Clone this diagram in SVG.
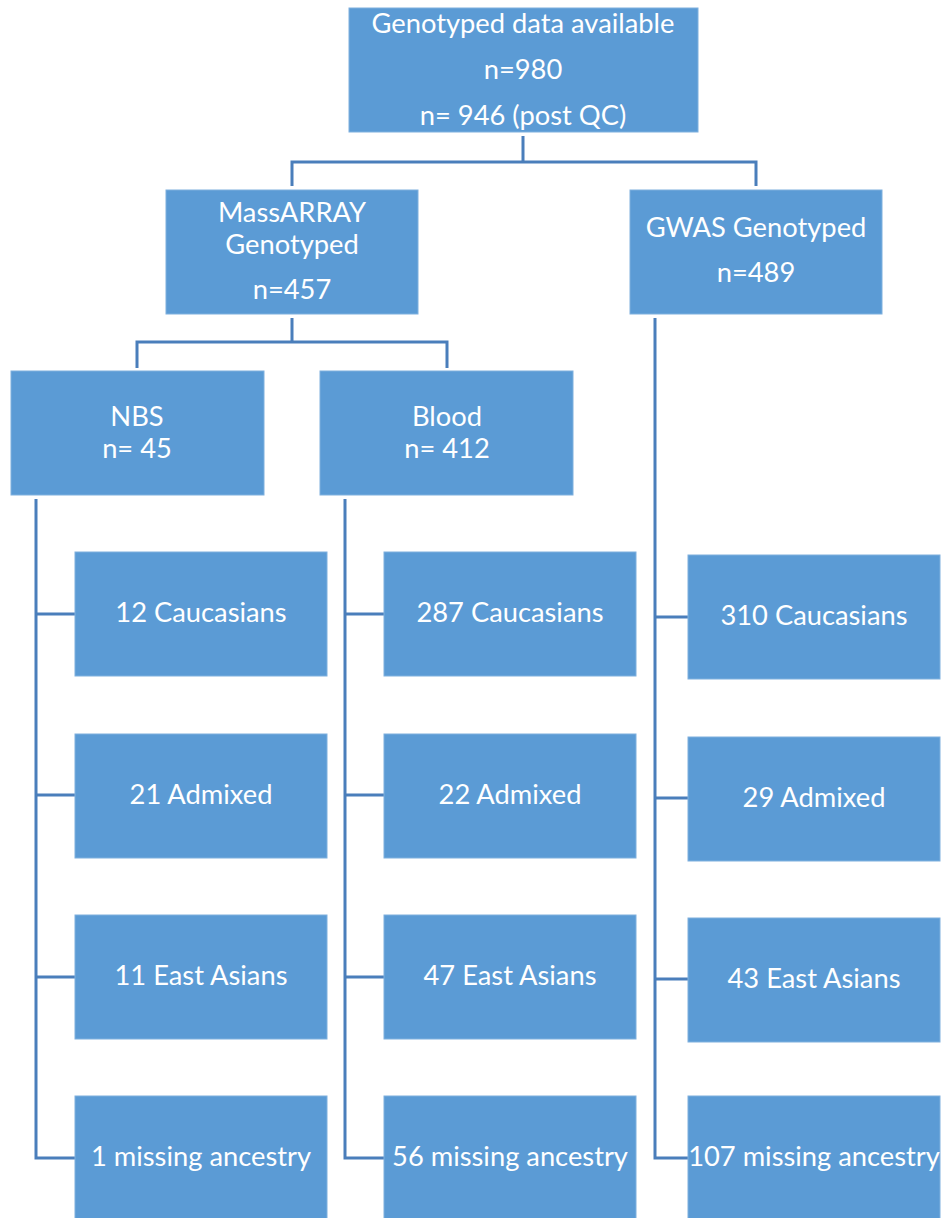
<svg xmlns="http://www.w3.org/2000/svg" width="944" height="1218" viewBox="0 0 944 1218">
<style>
.b{fill:#5B9BD5;stroke:#7FB0DE;stroke-width:1}
.t{font-family:Lato,"Open Sans",sans-serif;font-size:27.3px;fill:#fff;text-anchor:middle}
.c{fill:none;stroke:#4A7EBB;stroke-width:3}
</style>
<rect width="944" height="1218" fill="#fff"/>
<g id="connectors">
<path class="c" d="M523,136V162M292,186V162H756V186"/>
<path class="c" d="M292,318V342M137,368V342H447V368"/>
<path class="c" d="M36,499V1158H75M36,614H75M36,795H75M36,977H75"/>
<path class="c" d="M345,499V1158H384M345,614H384M345,795H384M345,977H384"/>
<path class="c" d="M655,318V1158H688M655,617H688M655,798H688M655,979H688"/>
</g>
<g id="top"><rect class="b" x="349" y="8" width="349" height="124"/><text class="t" x="523" y="33">Genotyped data available</text><text class="t" x="523" y="79">n=980</text><text class="t" x="523" y="125">n= 946 (post QC)</text></g>
<g id="massarray"><rect class="b" x="166" y="190" width="252" height="124"/><text class="t" x="292" y="222">MassARRAY</text><text class="t" x="292" y="254">Genotyped</text><text class="t" x="292" y="299">n=457</text></g>
<g id="gwas"><rect class="b" x="630" y="190" width="252" height="124"/><text class="t" x="756" y="237">GWAS Genotyped</text><text class="t" x="756" y="282">n=489</text></g>
<g id="nbs"><rect class="b" x="11" y="371" width="253" height="124"/><text class="t" x="137" y="426">NBS</text><text class="t" x="137" y="458">n= 45</text></g>
<g id="blood"><rect class="b" x="320" y="371" width="253" height="124"/><text class="t" x="447" y="426">Blood</text><text class="t" x="447" y="458">n= 412</text></g>
<g id="nbs-cau"><rect class="b" x="75" y="552" width="252" height="124"/><text class="t" x="201" y="622">12 Caucasians</text></g>
<g id="nbs-adm"><rect class="b" x="75" y="734" width="252" height="124"/><text class="t" x="201" y="804">21 Admixed</text></g>
<g id="nbs-ea"><rect class="b" x="75" y="915" width="252" height="124"/><text class="t" x="201" y="985">11 East Asians</text></g>
<g id="nbs-miss"><rect class="b" x="75" y="1096" width="252" height="124"/><text class="t" x="201" y="1166">1 missing ancestry</text></g>
<g id="blood-cau"><rect class="b" x="384" y="552" width="252" height="124"/><text class="t" x="510" y="622">287 Caucasians</text></g>
<g id="blood-adm"><rect class="b" x="384" y="734" width="252" height="124"/><text class="t" x="510" y="804">22 Admixed</text></g>
<g id="blood-ea"><rect class="b" x="384" y="915" width="252" height="124"/><text class="t" x="510" y="985">47 East Asians</text></g>
<g id="blood-miss"><rect class="b" x="384" y="1096" width="252" height="124"/><text class="t" x="510" y="1166">56 missing ancestry</text></g>
<g id="gwas-cau"><rect class="b" x="688" y="555" width="252" height="124"/><text class="t" x="814" y="625">310 Caucasians</text></g>
<g id="gwas-adm"><rect class="b" x="688" y="737" width="252" height="124"/><text class="t" x="814" y="807">29 Admixed</text></g>
<g id="gwas-ea"><rect class="b" x="688" y="918" width="252" height="124"/><text class="t" x="814" y="988">43 East Asians</text></g>
<g id="gwas-miss"><rect class="b" x="688" y="1096" width="252" height="124"/><text class="t" x="814" y="1166">107 missing ancestry</text></g>
</svg>
